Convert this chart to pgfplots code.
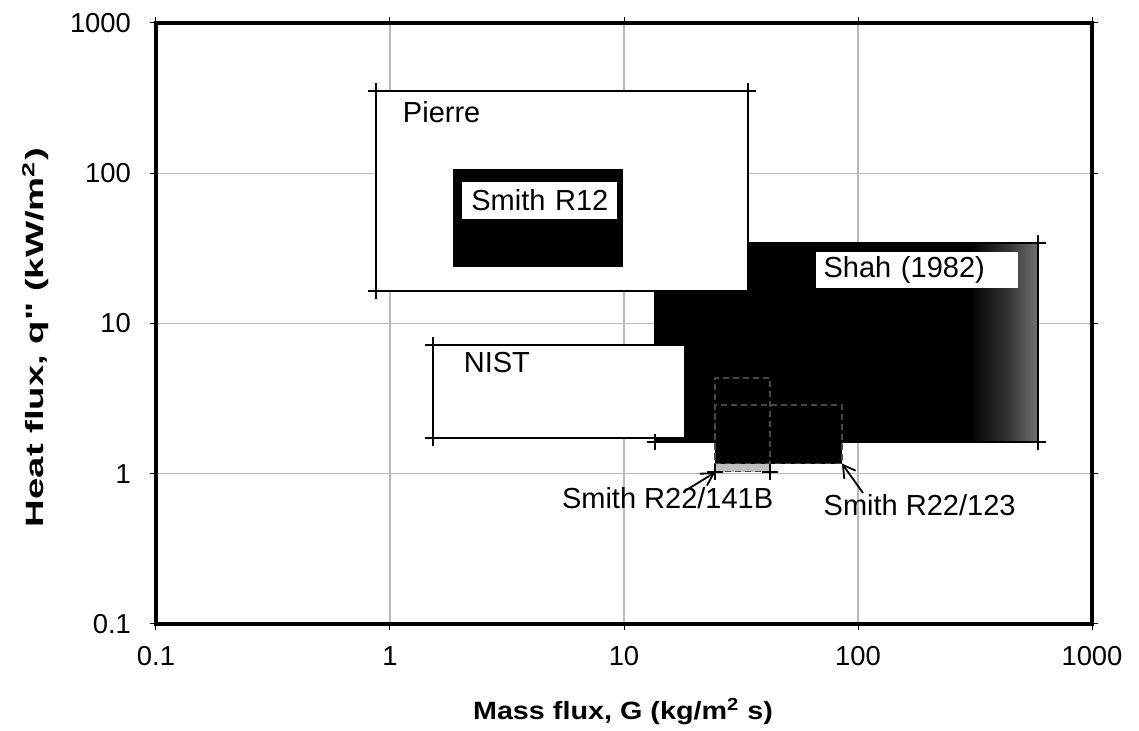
\documentclass[border=0pt]{standalone}
\usepackage{fontspec}
\setmainfont{Liberation Sans}[Ligatures=TeXOff]
\usepackage{graphicx}
\usepackage{pgfplots}
\pgfplotsset{compat=1.18}
\usetikzlibrary{arrows.meta}

% black body that fades to grey towards the high-G end
\pgfdeclarehorizontalshading{shahfade}{100bp}{color(0bp)=(black); color(25bp)=(black); color(66bp)=(black); color(71bp)=(black!80); color(75bp)=(black!55); color(100bp)=(black!55)}

\newcommand\boxfont{\fontsize{14.5}{17}\selectfont}

\begin{document}
\begin{tikzpicture}
\begin{axis}[
  name=ax,
  scale only axis, width=468pt, height=300.5pt,
  xmode=log, ymode=log,
  xmin=0.1, xmax=1000, ymin=0.1, ymax=1000,
  xtick={0.1,1,10,100,1000}, xticklabels={0.1,1,10,100,1000},
  ytick={0.1,1,10,100,1000}, yticklabels={0.1,1,10,100,1000},
  xminorticks=false, yminorticks=false, minor tick length=0pt,
  grid=major, major grid style={gray!55, line width=0.6pt},
  axis line style={line width=1.6pt},
  tick align=outside, major tick length=3pt,
  tick style={black, line width=0.5pt},
  ticklabel style={font=\fontsize{13.7}{15}\selectfont},
  xticklabel style={anchor=base, yshift=-18pt},
  yticklabel style={anchor=east, xshift=-6pt},
  clip=false,
]
% Smith R22/141B (mostly hidden behind the Shah range)
\addplot[fill=gray!50, draw=none] coordinates {(24.5,1.03) (42.1,1.03) (42.1,4.34) (24.5,4.34)} -- cycle;
% Shah (1982)
\addplot[shade, shading=shahfade, draw=black, line width=1pt] coordinates {(13.6,1.63) (588,1.63) (588,34.3) (13.6,34.3)} -- cycle;
% Smith R22/123
\addplot[fill=black, draw=none] coordinates {(24.5,1.17) (85.4,1.17) (85.4,2.87) (24.5,2.87)} -- cycle;
\addplot[draw=black!72, densely dashed, line width=0.6pt] coordinates {(24.5,1.03) (42.1,1.03) (42.1,4.34) (24.5,4.34)} -- cycle;
\addplot[draw=black!72, densely dashed, line width=0.6pt] coordinates {(24.5,1.17) (85.4,1.17) (85.4,2.87) (24.5,2.87)} -- cycle;
% NIST
\addplot[fill=white, draw=black, line width=1pt] coordinates {(1.53,1.72) (18.2,1.72) (18.2,7.19) (1.53,7.19)} -- cycle;
% Pierre
\addplot[fill=white, draw=black, line width=1pt] coordinates {(0.871,16.5) (33.9,16.5) (33.9,354) (0.871,354)} -- cycle;
% Smith R12
\addplot[fill=black, draw=black, line width=1pt] coordinates {(1.88,24.3) (9.78,24.3) (9.78,105) (1.88,105)} -- cycle;
% range limits marked at the corners
\addplot[only marks, mark=+, mark size=4pt, mark options={black, line width=1pt}] coordinates {
  (0.871,16.5) (33.9,354) (0.871,354)
  (1.53,1.72) (1.53,7.19)
  (13.6,1.63) (588,1.63) (588,34.3)
  (24.5,1.03) (42.1,1.03)
};

\node[anchor=base west, font=\boxfont] at (axis cs:1.06,216) {Pierre};
\node[anchor=base west, font=\boxfont] at (axis cs:1.93,4.71) {NIST};
\node[anchor=west, fill=white, inner xsep=4pt, inner ysep=0pt, minimum height=18.5pt, text width=69.5pt, align=center, font=\boxfont] at (axis cs:2.03,65.9) {Smith R12};
\node[anchor=west, fill=white, inner xsep=3.8pt, inner ysep=0pt, minimum height=18pt, text width=93.4pt, align=left, font=\boxfont] at (axis cs:65.9,22.8) {Shah (1982)};

\draw[-{Straight Barb[length=6pt,width=7pt]}, line width=0.9pt] (axis cs:18.5,0.78) -- (axis cs:24.5,1.02);
\draw[-{Straight Barb[length=6pt,width=7pt]}, line width=0.9pt] (axis cs:105,0.745) -- (axis cs:85.4,1.17);
\node[anchor=base west, font=\boxfont] at (axis cs:5.07,0.591) {Smith R22/141B};
\node[anchor=base west, font=\boxfont] at (axis cs:66.6,0.531) {Smith R22/123};

% axis titles
\node[anchor=base, rotate=90, font=\fontsize{12.5}{14}\selectfont\bfseries] at ([xshift=-56.4pt]rel axis cs:0,0.4767)
  {\resizebox{189.5pt}{\height}{Heat flux, q" (kW/m\textsuperscript{2})}};
\node[anchor=base, font=\fontsize{12.5}{14}\selectfont\bfseries] at ([yshift=-47.7pt]rel axis cs:0.499,0)
  {\resizebox{150pt}{\height}{Mass flux, G (kg/m\textsuperscript{2} s)}};
\end{axis}
\pgfresetboundingbox
\path ([xshift=-78pt,yshift=-53.5pt]ax.south west) rectangle ([xshift=23.5pt,yshift=11.5pt]ax.north east);
\end{tikzpicture}
\end{document}
